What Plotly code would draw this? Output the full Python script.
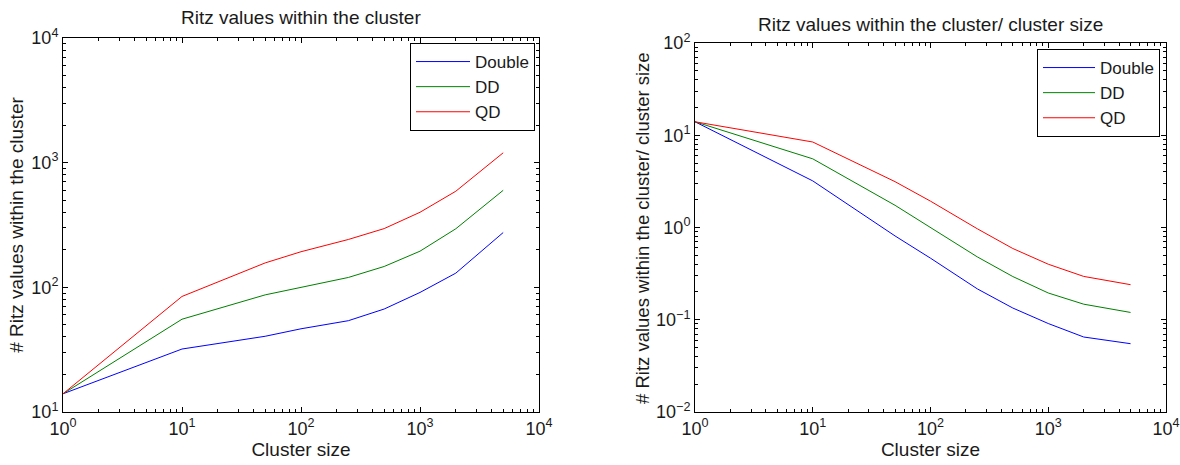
import plotly.graph_objects as go

cluster_size = [1, 10, 50, 100, 250, 500, 1000, 2000, 5000]
ritz_double = [14, 32, 40.5, 46.5, 54, 67, 91, 130, 275]
ritz_dd = [14, 55.5, 87, 100, 120, 147, 195, 295, 600]
ritz_qd = [14, 84.5, 157, 193, 242, 296, 400, 590, 1200]

series_names = ["Double", "DD", "QD"]
series_colors = ["#0000ff", "#008000", "#ff0000"]
series_values = [ritz_double, ritz_dd, ritz_qd]

x_tickvals = [1, 10, 100, 1000, 10000]
x_ticktext = ["10<sup>0</sup>", "10<sup>1</sup>", "10<sup>2</sup>", "10<sup>3</sup>", "10<sup>4</sup>"]
yl_tickvals = [10, 100, 1000, 10000]
yl_ticktext = ["10<sup>1</sup>", "10<sup>2</sup>", "10<sup>3</sup>", "10<sup>4</sup>"]
yr_tickvals = [0.01, 0.1, 1, 10, 100]
yr_ticktext = ["10<sup>−2</sup>", "10<sup>−1</sup>", "10<sup>0</sup>", "10<sup>1</sup>", "10<sup>2</sup>"]

FONT = "Liberation Sans, Arial, sans-serif"
TXT = "#1a1a1a"

fig = go.Figure()
for name, color, vals in zip(series_names, series_colors, series_values):
    fig.add_trace(go.Scatter(x=cluster_size, y=vals, mode="lines", name=name,
                             line=dict(color=color, width=1), xaxis="x", yaxis="y",
                             legend="legend"))
for name, color, vals in zip(series_names, series_colors, series_values):
    fig.add_trace(go.Scatter(x=cluster_size, y=[v / c for v, c in zip(vals, cluster_size)],
                             mode="lines", name=name,
                             line=dict(color=color, width=1), xaxis="x2", yaxis="y2",
                             legend="legend2"))

W, H = 1180, 465
def px(x):
    return x / W
def py(y):
    return 1 - y / H

axis_common = dict(
    type="log", showgrid=False, zeroline=False, showline=True, linecolor="black",
    linewidth=1, mirror="ticks", ticks="inside", ticklen=5, tickcolor="black",
    automargin=False, ticklabelstandoff=0,
    tickfont=dict(size=18, color=TXT, family=FONT),
    minor=dict(ticks="inside", ticklen=3, tickcolor="black", dtick="D1", showgrid=False),
)

fig.update_layout(
    width=W, height=H,
    margin=dict(l=0, r=0, t=0, b=0, autoexpand=False),
    paper_bgcolor="white", plot_bgcolor="white",
    font=dict(family=FONT, color=TXT),
    xaxis=dict(domain=[px(63), px(539)], range=[0, 4], anchor="y",
               tickvals=x_tickvals, ticktext=x_ticktext,
               title=dict(text="Cluster size", font=dict(size=19), standoff=2),
               **axis_common),
    yaxis=dict(domain=[py(412), py(38)], range=[1, 4], anchor="x",
               tickvals=yl_tickvals, ticktext=yl_ticktext,
               title=dict(text="# Ritz values within the cluster", font=dict(size=19), standoff=2),
               **axis_common),
    xaxis2=dict(domain=[px(695), px(1166)], range=[0, 4], anchor="y2",
                tickvals=x_tickvals, ticktext=x_ticktext,
                title=dict(text="Cluster size", font=dict(size=19), standoff=2),
                **axis_common),
    yaxis2=dict(domain=[py(412), py(43)], range=[-2, 2], anchor="x2",
                tickvals=yr_tickvals, ticktext=yr_ticktext,
                **axis_common),
    legend=dict(x=px(535), y=py(43), xanchor="right", yanchor="top",
                bordercolor="black", borderwidth=1, bgcolor="white",
                font=dict(size=17, family=FONT, color=TXT), tracegroupgap=0,
                itemwidth=54),
    legend2=dict(x=px(1160), y=py(49), xanchor="right", yanchor="top",
                 bordercolor="black", borderwidth=1, bgcolor="white",
                 font=dict(size=17, family=FONT, color=TXT), tracegroupgap=0,
                 itemwidth=52),
    annotations=[
        dict(text="Ritz values within the cluster", x=px(301), y=py(17), xref="paper", yref="paper",
             xanchor="center", yanchor="middle",
             showarrow=False, font=dict(size=19, family=FONT, color=TXT)),
        dict(text="Ritz values within the cluster/ cluster size", x=px(930), y=py(24), xref="paper", yref="paper",
             xanchor="center", yanchor="middle",
             showarrow=False, font=dict(size=19, family=FONT, color=TXT)),
        dict(text="# Ritz values within the cluster/ cluster size", x=px(643), y=py(228),
             xref="paper", yref="paper", xanchor="center", yanchor="middle", textangle=-90,
             showarrow=False, font=dict(size=18.5, family=FONT, color=TXT)),
    ],
)

fig.write_html("out.html", config={"displayModeBar": False},
               post_script="document.body.style.margin='0';document.documentElement.style.margin='0';")
